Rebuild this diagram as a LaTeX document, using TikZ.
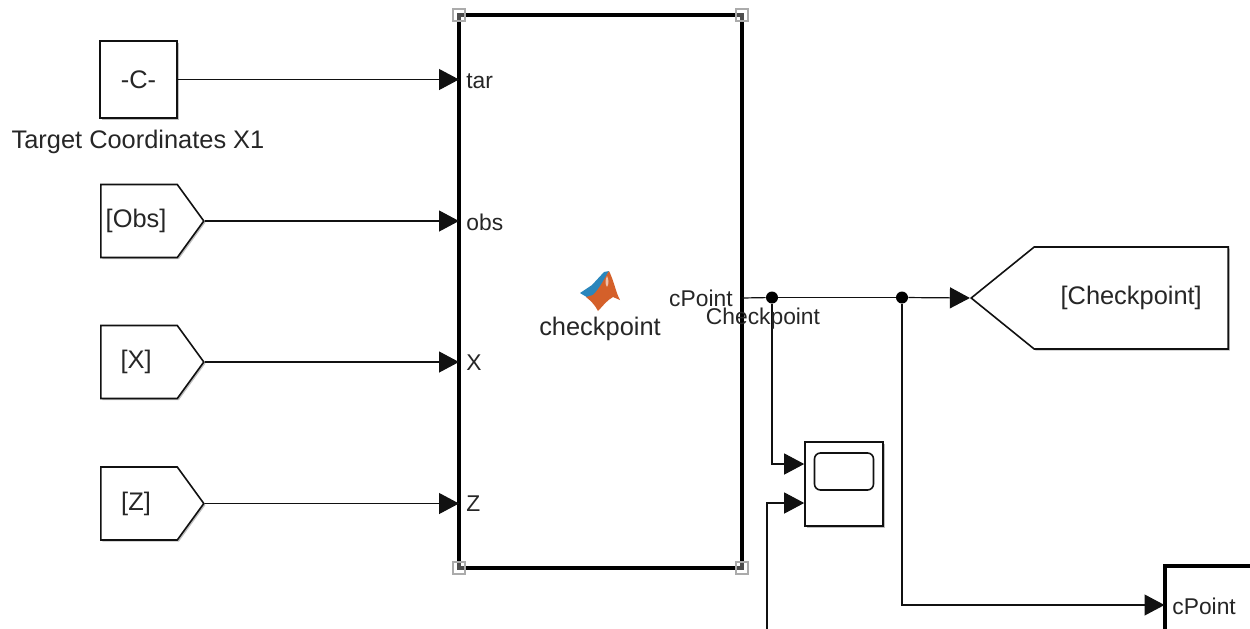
\documentclass[tikz,border=0pt]{standalone}
\usepackage{fontspec}
\setmainfont{Liberation Sans}
\usetikzlibrary{arrows.meta, shapes.symbols, shadows}
\definecolor{lineblack}{HTML}{111111}
\definecolor{textgray}{HTML}{262626}
\definecolor{handlegray}{HTML}{ABABAB}
\definecolor{logoorange}{HTML}{D4602A}
\definecolor{logoblue}{HTML}{2A86BC}
\newcommand{\tagtext}[1]{\hspace*{-3pt}\raisebox{-0.6pt}{#1}}
\tikzset{
	softshadow/.style={drop shadow={shadow xshift=0.8pt, shadow yshift=-0.8pt, opacity=0.25, fill=black}}
}
\tikzset{
	blocktext/.style={font=\fontsize{12.7}{15}\selectfont, text=textgray, inner sep=0pt}
}
\tikzset{
	porttext/.style={font=\fontsize{11.4}{13}\selectfont, text=textgray, inner sep=0pt}
}
\tikzset{
	fromtag/.style={signal, signal to=east, signal pointer angle=108, draw=lineblack, line width=0.8pt, fill=white, softshadow, minimum width=51.5pt, minimum height=36.5pt, inner sep=0pt, anchor=west, blocktext}
}
\tikzset{
	wire/.style={draw=lineblack, line width=0.6pt, -{Triangle[length=10pt,width=10.5pt]}}
}
\tikzset{
	plainwire/.style={draw=lineblack, line width=0.6pt}
}
\tikzset{
	junction/.style={circle, fill=black, minimum size=6pt, inner sep=0pt}
}
\tikzset{
	handle/.style={draw=handlegray, fill=white, fill opacity=0.3, line width=0.6pt, minimum size=6pt, inner sep=0pt, outer sep=0pt}
}
\begin{document}
\begin{tikzpicture}[x=0.5pt, y=-0.5pt]
	\useasboundingbox (0,0) rectangle (1250,628);
	\clip (0,0) rectangle (1250,628);

	% source blocks
	\node[draw=lineblack, line width=0.8pt, fill=white, softshadow, minimum size=38.5pt, inner sep=0pt, blocktext] (const) at (138.5,79.5) {-C-};
	\node[blocktext] (constlabel) at (138,142) {Target Coordinates X1};
	\node[fromtag] (obs) at (100,221) {\tagtext{[Obs]}};
	\node[fromtag] (xtag) at (100,362) {\tagtext{[X]}};
	\node[fromtag] (ztag) at (100,503.5) {\tagtext{[Z]}};

	% main block
	\node[draw=black, line width=2pt, fill=white, softshadow, minimum width=141.5pt, minimum height=276.5pt, inner sep=0pt, outer sep=0pt] (cp) at (600.5,291.5) {};
	\node[handle] (h1) at (cp.north west) {};
	\node[handle] (h2) at (cp.north east) {};
	\node[handle] (h3) at (cp.south west) {};
	\node[handle] (h4) at (cp.south east) {};
	\node[porttext, anchor=west] (ptar) at (466,81) {tar};
	\node[porttext, anchor=west] (pobs) at (466,222) {obs};
	\node[porttext, anchor=west] (px) at (466,363) {X};
	\node[porttext, anchor=west] (pz) at (466,504) {Z};
	\node[porttext, anchor=east] (pout) at (733,298) {cPoint};
	\node[blocktext] (cplabel) at (600,329) {checkpoint};

	% logo
	\fill[logoblue] (580,293) -- (592,285) -- (604,272) -- (609,271) -- (600,290) -- (590,299) -- cycle;
	\fill[logoorange] (609,271) .. controls (614,281) and (616,293) .. (620,300) -- (613,297) .. controls (607,300) and (602,307) .. (598,311) .. controls (595,305) and (591,301) .. (586,297) -- (593,295) .. controls (600,288) and (604,279) .. (609,271) -- cycle;
	\fill[logoorange!40!white] (607,276) .. controls (609,280) and (609,284) .. (607,287) .. controls (605,284) and (605,280) .. (607,276) -- cycle;

	% output side blocks
	\node[draw=lineblack, line width=0.8pt, fill=white, softshadow, minimum width=39pt, minimum height=42pt, inner sep=0pt] (scope) at (844,484) {};
	\node[draw=lineblack, line width=0.8pt, rounded corners=3pt, minimum width=29.5pt, minimum height=18.5pt, inner sep=0pt] (screen) at (844,471.5) {};
	\node[signal, signal to=west, signal pointer angle=78, draw=lineblack, line width=0.8pt, fill=white, softshadow, minimum width=128.5pt, minimum height=51pt, inner sep=0pt, anchor=east, blocktext] (gotocp) at (1229,298) {\raisebox{-0.5pt}{[Checkpoint]}};
	\node[draw=black, line width=2pt, fill=white, minimum width=70pt, minimum height=70pt, inner sep=0pt, outer sep=0pt, anchor=north west] (cpblock) at (1164.5,565.5) {};
	\node[porttext, anchor=west] (pin) at (1172,606) {cPoint};

	% wires
	\coordinate (cin) at (cp.west |- const);
	\coordinate (obsin) at (cp.west |- obs.east);
	\coordinate (xin) at (cp.west |- xtag.east);
	\coordinate (zin) at (cp.west |- ztag.east);
	\coordinate (cout) at (cp.east |- gotocp.west);
	\coordinate (scopein1) at (scope.west |- 0,464);
	\coordinate (scopein2) at (scope.west |- 0,503);
	\coordinate (scopefree) at (767,640);
	\coordinate (pinin) at (cpblock.west |- 0,605);
	\draw[wire] (const) -- (cin);
	\draw[wire] (obs.east) -- (obsin);
	\draw[wire] (xtag.east) -- (xin);
	\draw[wire] (ztag.east) -- (zin);
	\node[junction] (j1) at (772,297.5) {};
	\node[junction] (j2) at (902,297.5) {};
	\draw[plainwire] (cout) -- (j1);
	\draw[plainwire] (j1) -- (j2);
	\draw[wire] (j2) -- (gotocp.west);
	\draw[wire] (j1) |- (scopein1);
	\draw[wire] (scopefree) |- (scopein2);
	\draw[wire] (j2) |- (pinin);
	\node[porttext] (wirelabel) at (763,319) {Checkpoint};
\end{tikzpicture}
\end{document}
